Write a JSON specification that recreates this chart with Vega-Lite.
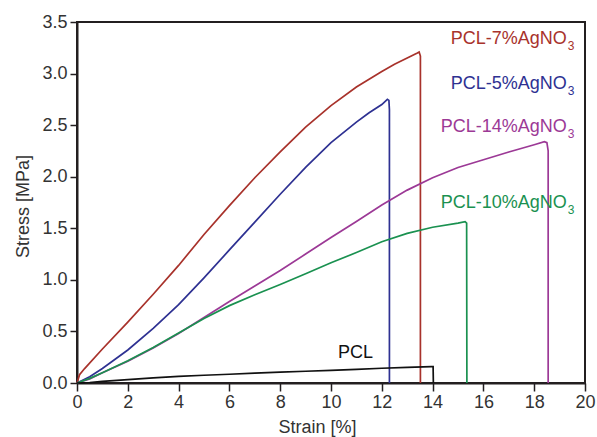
{
  "$schema": "https://vega.github.io/schema/vega-lite/v6.json",
  "width": 508,
  "height": 361,
  "autosize": "none",
  "padding": {"left": 77, "top": 22, "right": 12, "bottom": 54},
  "background": "white",
  "config": {
    "view": {"stroke": "#231f20", "strokeWidth": 2},
    "font": "Liberation Sans",
    "axis": {
      "domainColor": "#231f20", "domainWidth": 2,
      "tickColor": "#231f20", "tickWidth": 1.5,
      "labelFont": "Liberation Sans", "labelFontSize": 18, "labelColor": "#333333",
      "titleFont": "Liberation Sans", "titleFontSize": 18, "titleFontWeight": "normal", "titleColor": "#333333",
      "grid": false
    }
  },
  "datasets": {
    "curves": [
      {"series": "PCL-7%AgNO3", "i": 0, "strain": 0, "stress": 0},
      {"series": "PCL-7%AgNO3", "i": 1, "strain": 0.1, "stress": 0.08},
      {"series": "PCL-7%AgNO3", "i": 2, "strain": 0.3, "stress": 0.14},
      {"series": "PCL-7%AgNO3", "i": 3, "strain": 1, "stress": 0.33},
      {"series": "PCL-7%AgNO3", "i": 4, "strain": 2, "stress": 0.59},
      {"series": "PCL-7%AgNO3", "i": 5, "strain": 3, "stress": 0.86},
      {"series": "PCL-7%AgNO3", "i": 6, "strain": 4, "stress": 1.14},
      {"series": "PCL-7%AgNO3", "i": 7, "strain": 5, "stress": 1.44},
      {"series": "PCL-7%AgNO3", "i": 8, "strain": 6, "stress": 1.72},
      {"series": "PCL-7%AgNO3", "i": 9, "strain": 7, "stress": 1.99},
      {"series": "PCL-7%AgNO3", "i": 10, "strain": 8, "stress": 2.24},
      {"series": "PCL-7%AgNO3", "i": 11, "strain": 9, "stress": 2.48},
      {"series": "PCL-7%AgNO3", "i": 12, "strain": 10, "stress": 2.69},
      {"series": "PCL-7%AgNO3", "i": 13, "strain": 11, "stress": 2.87},
      {"series": "PCL-7%AgNO3", "i": 14, "strain": 12, "stress": 3.02},
      {"series": "PCL-7%AgNO3", "i": 15, "strain": 12.5, "stress": 3.09},
      {"series": "PCL-7%AgNO3", "i": 16, "strain": 13, "stress": 3.15},
      {"series": "PCL-7%AgNO3", "i": 17, "strain": 13.4, "stress": 3.2},
      {"series": "PCL-7%AgNO3", "i": 18, "strain": 13.47, "stress": 3.21},
      {"series": "PCL-7%AgNO3", "i": 19, "strain": 13.52, "stress": 3.17},
      {"series": "PCL-7%AgNO3", "i": 20, "strain": 13.52, "stress": 0},

      {"series": "PCL-5%AgNO3", "i": 0, "strain": 0, "stress": 0},
      {"series": "PCL-5%AgNO3", "i": 1, "strain": 0.5, "stress": 0.06},
      {"series": "PCL-5%AgNO3", "i": 2, "strain": 1, "stress": 0.14},
      {"series": "PCL-5%AgNO3", "i": 3, "strain": 2, "stress": 0.32},
      {"series": "PCL-5%AgNO3", "i": 4, "strain": 3, "stress": 0.53},
      {"series": "PCL-5%AgNO3", "i": 5, "strain": 4, "stress": 0.76},
      {"series": "PCL-5%AgNO3", "i": 6, "strain": 5, "stress": 1.02},
      {"series": "PCL-5%AgNO3", "i": 7, "strain": 6, "stress": 1.29},
      {"series": "PCL-5%AgNO3", "i": 8, "strain": 7, "stress": 1.56},
      {"series": "PCL-5%AgNO3", "i": 9, "strain": 8, "stress": 1.83},
      {"series": "PCL-5%AgNO3", "i": 10, "strain": 9, "stress": 2.09},
      {"series": "PCL-5%AgNO3", "i": 11, "strain": 10, "stress": 2.33},
      {"series": "PCL-5%AgNO3", "i": 12, "strain": 11, "stress": 2.53},
      {"series": "PCL-5%AgNO3", "i": 13, "strain": 11.5, "stress": 2.62},
      {"series": "PCL-5%AgNO3", "i": 14, "strain": 12, "stress": 2.7},
      {"series": "PCL-5%AgNO3", "i": 15, "strain": 12.22, "stress": 2.75},
      {"series": "PCL-5%AgNO3", "i": 16, "strain": 12.28, "stress": 2.74},
      {"series": "PCL-5%AgNO3", "i": 17, "strain": 12.3, "stress": 2.65},
      {"series": "PCL-5%AgNO3", "i": 18, "strain": 12.3, "stress": 0},

      {"series": "PCL-14%AgNO3", "i": 0, "strain": 0, "stress": 0},
      {"series": "PCL-14%AgNO3", "i": 1, "strain": 0.5, "stress": 0.04},
      {"series": "PCL-14%AgNO3", "i": 2, "strain": 1, "stress": 0.1},
      {"series": "PCL-14%AgNO3", "i": 3, "strain": 2, "stress": 0.21},
      {"series": "PCL-14%AgNO3", "i": 4, "strain": 3, "stress": 0.34},
      {"series": "PCL-14%AgNO3", "i": 5, "strain": 4, "stress": 0.48},
      {"series": "PCL-14%AgNO3", "i": 6, "strain": 5, "stress": 0.635},
      {"series": "PCL-14%AgNO3", "i": 7, "strain": 6, "stress": 0.79},
      {"series": "PCL-14%AgNO3", "i": 8, "strain": 7, "stress": 0.94},
      {"series": "PCL-14%AgNO3", "i": 9, "strain": 8, "stress": 1.09},
      {"series": "PCL-14%AgNO3", "i": 10, "strain": 9, "stress": 1.25},
      {"series": "PCL-14%AgNO3", "i": 11, "strain": 10, "stress": 1.41},
      {"series": "PCL-14%AgNO3", "i": 12, "strain": 11, "stress": 1.565},
      {"series": "PCL-14%AgNO3", "i": 13, "strain": 12, "stress": 1.725},
      {"series": "PCL-14%AgNO3", "i": 14, "strain": 13, "stress": 1.87},
      {"series": "PCL-14%AgNO3", "i": 15, "strain": 14, "stress": 1.99},
      {"series": "PCL-14%AgNO3", "i": 16, "strain": 15, "stress": 2.09},
      {"series": "PCL-14%AgNO3", "i": 17, "strain": 16, "stress": 2.165},
      {"series": "PCL-14%AgNO3", "i": 18, "strain": 17, "stress": 2.24},
      {"series": "PCL-14%AgNO3", "i": 19, "strain": 18, "stress": 2.31},
      {"series": "PCL-14%AgNO3", "i": 20, "strain": 18.4, "stress": 2.34},
      {"series": "PCL-14%AgNO3", "i": 21, "strain": 18.5, "stress": 2.33},
      {"series": "PCL-14%AgNO3", "i": 22, "strain": 18.55, "stress": 2.25},
      {"series": "PCL-14%AgNO3", "i": 23, "strain": 18.55, "stress": 0},

      {"series": "PCL-10%AgNO3", "i": 0, "strain": 0, "stress": 0},
      {"series": "PCL-10%AgNO3", "i": 1, "strain": 0.5, "stress": 0.045},
      {"series": "PCL-10%AgNO3", "i": 2, "strain": 1, "stress": 0.1},
      {"series": "PCL-10%AgNO3", "i": 3, "strain": 2, "stress": 0.215},
      {"series": "PCL-10%AgNO3", "i": 4, "strain": 3, "stress": 0.345},
      {"series": "PCL-10%AgNO3", "i": 5, "strain": 4, "stress": 0.485},
      {"series": "PCL-10%AgNO3", "i": 6, "strain": 5, "stress": 0.625},
      {"series": "PCL-10%AgNO3", "i": 7, "strain": 6, "stress": 0.75},
      {"series": "PCL-10%AgNO3", "i": 8, "strain": 7, "stress": 0.855},
      {"series": "PCL-10%AgNO3", "i": 9, "strain": 8, "stress": 0.955},
      {"series": "PCL-10%AgNO3", "i": 10, "strain": 9, "stress": 1.06},
      {"series": "PCL-10%AgNO3", "i": 11, "strain": 10, "stress": 1.165},
      {"series": "PCL-10%AgNO3", "i": 12, "strain": 11, "stress": 1.265},
      {"series": "PCL-10%AgNO3", "i": 13, "strain": 12, "stress": 1.37},
      {"series": "PCL-10%AgNO3", "i": 14, "strain": 13, "stress": 1.45},
      {"series": "PCL-10%AgNO3", "i": 15, "strain": 14, "stress": 1.51},
      {"series": "PCL-10%AgNO3", "i": 16, "strain": 15, "stress": 1.55},
      {"series": "PCL-10%AgNO3", "i": 17, "strain": 15.28, "stress": 1.564},
      {"series": "PCL-10%AgNO3", "i": 18, "strain": 15.34, "stress": 1.55},
      {"series": "PCL-10%AgNO3", "i": 19, "strain": 15.35, "stress": 0},

      {"series": "PCL", "i": 0, "strain": 0, "stress": 0},
      {"series": "PCL", "i": 1, "strain": 0.5, "stress": 0.005},
      {"series": "PCL", "i": 2, "strain": 1, "stress": 0.015},
      {"series": "PCL", "i": 3, "strain": 2, "stress": 0.033},
      {"series": "PCL", "i": 4, "strain": 3, "stress": 0.05},
      {"series": "PCL", "i": 5, "strain": 4, "stress": 0.064},
      {"series": "PCL", "i": 6, "strain": 5, "stress": 0.075},
      {"series": "PCL", "i": 7, "strain": 6, "stress": 0.085},
      {"series": "PCL", "i": 8, "strain": 7, "stress": 0.095},
      {"series": "PCL", "i": 9, "strain": 8, "stress": 0.105},
      {"series": "PCL", "i": 10, "strain": 9, "stress": 0.114},
      {"series": "PCL", "i": 11, "strain": 10, "stress": 0.123},
      {"series": "PCL", "i": 12, "strain": 11, "stress": 0.133},
      {"series": "PCL", "i": 13, "strain": 12, "stress": 0.143},
      {"series": "PCL", "i": 14, "strain": 13, "stress": 0.151},
      {"series": "PCL", "i": 15, "strain": 13.95, "stress": 0.158},
      {"series": "PCL", "i": 16, "strain": 14.02, "stress": 0.158},
      {"series": "PCL", "i": 17, "strain": 14.03, "stress": 0}
    ],
    "labels": [
      {"series": "PCL-7%AgNO3", "label": "PCL-7%AgNO", "sub": "3", "x": 19.28, "y": 3.287},
      {"series": "PCL-5%AgNO3", "label": "PCL-5%AgNO", "sub": "3", "x": 19.28, "y": 2.851},
      {"series": "PCL-14%AgNO3", "label": "PCL-14%AgNO", "sub": "3", "x": 19.28, "y": 2.437},
      {"series": "PCL-10%AgNO3", "label": "PCL-10%AgNO", "sub": "3", "x": 19.28, "y": 1.694}
    ],
    "pcl": [
      {"series": "PCL", "label": "PCL", "x": 10.96, "y": 0.239}
    ]
  },
  "layer": [
    {
      "data": {"name": "curves"},
      "mark": {"type": "line", "strokeWidth": 1.7},
      "encoding": {
        "x": {
          "field": "strain", "type": "quantitative",
          "scale": {"domain": [0, 20], "nice": false, "zero": false},
          "axis": {
            "title": "Strain [%]",
            "values": [0,1,2,3,4,5,6,7,8,9,10,11,12,13,14,15,16,17,18,19,20],
            "labelExpr": "datum.value % 2 === 0 ? datum.label : ''",
            "format": "d",
            "tickSize": {"condition": {"test": "datum.value % 2 !== 0", "value": 4}, "value": 8},
            "labelPadding": 2,
            "labelFlush": false,
            "titleX": 240, "titleY": 49, "titleBaseline": "alphabetic", "titleAlign": "center"
          }
        },
        "y": {
          "field": "stress", "type": "quantitative",
          "scale": {"domain": [0, 3.5], "nice": false},
          "axis": {
            "title": "Stress [MPa]",
            "values": [0, 0.5, 1, 1.5, 2, 2.5, 3, 3.5],
            "format": ".1f",
            "tickSize": 7,
            "labelPadding": 3,
            "labelFlush": false,
            "titleX": -49, "titleY": 184, "titleAngle": -90, "titleBaseline": "alphabetic", "titleAlign": "center"
          }
        },
        "color": {
          "field": "series", "type": "nominal",
          "scale": {
            "domain": ["PCL-7%AgNO3", "PCL-5%AgNO3", "PCL-14%AgNO3", "PCL-10%AgNO3", "PCL"],
            "range": ["#a8322b", "#2e3192", "#9c3996", "#1a9150", "#111111"]
          },
          "legend": null
        },
        "order": {"field": "i", "type": "quantitative"}
      }
    },
    {
      "data": {"name": "labels"},
      "mark": {"type": "text", "align": "right", "baseline": "alphabetic", "fontSize": 18, "font": "Liberation Sans"},
      "encoding": {
        "x": {"field": "x", "type": "quantitative"},
        "y": {"field": "y", "type": "quantitative"},
        "text": {"field": "label"},
        "color": {"field": "series", "type": "nominal", "legend": null}
      }
    },
    {
      "data": {"name": "labels"},
      "mark": {"type": "text", "align": "left", "baseline": "alphabetic", "fontSize": 12, "dx": 1, "dy": 6, "font": "Liberation Sans"},
      "encoding": {
        "x": {"field": "x", "type": "quantitative"},
        "y": {"field": "y", "type": "quantitative"},
        "text": {"field": "sub"},
        "color": {"field": "series", "type": "nominal", "legend": null}
      }
    },
    {
      "data": {"name": "pcl"},
      "mark": {"type": "text", "align": "center", "baseline": "alphabetic", "fontSize": 18, "font": "Liberation Sans"},
      "encoding": {
        "x": {"field": "x", "type": "quantitative"},
        "y": {"field": "y", "type": "quantitative"},
        "text": {"field": "label"},
        "color": {"field": "series", "type": "nominal", "legend": null}
      }
    }
  ]
}
